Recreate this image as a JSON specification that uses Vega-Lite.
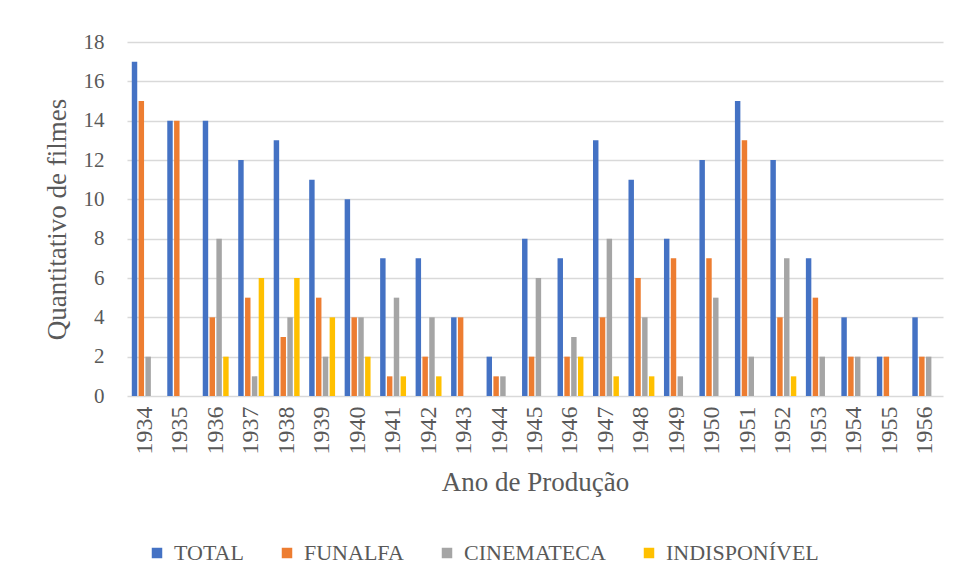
{
  "$schema": "https://vega.github.io/schema/vega-lite/v6.json",
  "width": 816,
  "height": 354,
  "autosize": {"type": "none"},
  "padding": {"left": 127, "top": 42, "right": 17, "bottom": 185},
  "background": "white",
  "config": {
    "view": {"stroke": null},
    "font": "'Times New Roman', 'Liberation Serif', serif"
  },
  "data": {
    "values": [
      {"ano": "1934", "serie": "TOTAL", "n": 17}, {"ano": "1934", "serie": "FUNALFA", "n": 15}, {"ano": "1934", "serie": "CINEMATECA", "n": 2},
      {"ano": "1935", "serie": "TOTAL", "n": 14}, {"ano": "1935", "serie": "FUNALFA", "n": 14},
      {"ano": "1936", "serie": "TOTAL", "n": 14}, {"ano": "1936", "serie": "FUNALFA", "n": 4}, {"ano": "1936", "serie": "CINEMATECA", "n": 8}, {"ano": "1936", "serie": "INDISPONÍVEL", "n": 2},
      {"ano": "1937", "serie": "TOTAL", "n": 12}, {"ano": "1937", "serie": "FUNALFA", "n": 5}, {"ano": "1937", "serie": "CINEMATECA", "n": 1}, {"ano": "1937", "serie": "INDISPONÍVEL", "n": 6},
      {"ano": "1938", "serie": "TOTAL", "n": 13}, {"ano": "1938", "serie": "FUNALFA", "n": 3}, {"ano": "1938", "serie": "CINEMATECA", "n": 4}, {"ano": "1938", "serie": "INDISPONÍVEL", "n": 6},
      {"ano": "1939", "serie": "TOTAL", "n": 11}, {"ano": "1939", "serie": "FUNALFA", "n": 5}, {"ano": "1939", "serie": "CINEMATECA", "n": 2}, {"ano": "1939", "serie": "INDISPONÍVEL", "n": 4},
      {"ano": "1940", "serie": "TOTAL", "n": 10}, {"ano": "1940", "serie": "FUNALFA", "n": 4}, {"ano": "1940", "serie": "CINEMATECA", "n": 4}, {"ano": "1940", "serie": "INDISPONÍVEL", "n": 2},
      {"ano": "1941", "serie": "TOTAL", "n": 7}, {"ano": "1941", "serie": "FUNALFA", "n": 1}, {"ano": "1941", "serie": "CINEMATECA", "n": 5}, {"ano": "1941", "serie": "INDISPONÍVEL", "n": 1},
      {"ano": "1942", "serie": "TOTAL", "n": 7}, {"ano": "1942", "serie": "FUNALFA", "n": 2}, {"ano": "1942", "serie": "CINEMATECA", "n": 4}, {"ano": "1942", "serie": "INDISPONÍVEL", "n": 1},
      {"ano": "1943", "serie": "TOTAL", "n": 4}, {"ano": "1943", "serie": "FUNALFA", "n": 4},
      {"ano": "1944", "serie": "TOTAL", "n": 2}, {"ano": "1944", "serie": "FUNALFA", "n": 1}, {"ano": "1944", "serie": "CINEMATECA", "n": 1},
      {"ano": "1945", "serie": "TOTAL", "n": 8}, {"ano": "1945", "serie": "FUNALFA", "n": 2}, {"ano": "1945", "serie": "CINEMATECA", "n": 6},
      {"ano": "1946", "serie": "TOTAL", "n": 7}, {"ano": "1946", "serie": "FUNALFA", "n": 2}, {"ano": "1946", "serie": "CINEMATECA", "n": 3}, {"ano": "1946", "serie": "INDISPONÍVEL", "n": 2},
      {"ano": "1947", "serie": "TOTAL", "n": 13}, {"ano": "1947", "serie": "FUNALFA", "n": 4}, {"ano": "1947", "serie": "CINEMATECA", "n": 8}, {"ano": "1947", "serie": "INDISPONÍVEL", "n": 1},
      {"ano": "1948", "serie": "TOTAL", "n": 11}, {"ano": "1948", "serie": "FUNALFA", "n": 6}, {"ano": "1948", "serie": "CINEMATECA", "n": 4}, {"ano": "1948", "serie": "INDISPONÍVEL", "n": 1},
      {"ano": "1949", "serie": "TOTAL", "n": 8}, {"ano": "1949", "serie": "FUNALFA", "n": 7}, {"ano": "1949", "serie": "CINEMATECA", "n": 1},
      {"ano": "1950", "serie": "TOTAL", "n": 12}, {"ano": "1950", "serie": "FUNALFA", "n": 7}, {"ano": "1950", "serie": "CINEMATECA", "n": 5},
      {"ano": "1951", "serie": "TOTAL", "n": 15}, {"ano": "1951", "serie": "FUNALFA", "n": 13}, {"ano": "1951", "serie": "CINEMATECA", "n": 2},
      {"ano": "1952", "serie": "TOTAL", "n": 12}, {"ano": "1952", "serie": "FUNALFA", "n": 4}, {"ano": "1952", "serie": "CINEMATECA", "n": 7}, {"ano": "1952", "serie": "INDISPONÍVEL", "n": 1},
      {"ano": "1953", "serie": "TOTAL", "n": 7}, {"ano": "1953", "serie": "FUNALFA", "n": 5}, {"ano": "1953", "serie": "CINEMATECA", "n": 2},
      {"ano": "1954", "serie": "TOTAL", "n": 4}, {"ano": "1954", "serie": "FUNALFA", "n": 2}, {"ano": "1954", "serie": "CINEMATECA", "n": 2},
      {"ano": "1955", "serie": "TOTAL", "n": 2}, {"ano": "1955", "serie": "FUNALFA", "n": 2},
      {"ano": "1956", "serie": "TOTAL", "n": 4}, {"ano": "1956", "serie": "FUNALFA", "n": 2}, {"ano": "1956", "serie": "CINEMATECA", "n": 2}
    ]
  },
  "mark": {"type": "bar"},
  "encoding": {
    "x": {
      "field": "ano", "type": "ordinal", "sort": "ascending",
      "scale": {"paddingInner": 0.27, "paddingOuter": 0.135},
      "axis": {"title": "Ano de Produção", "labelAngle": 270, "labelAlign": "right", "labelBaseline": "middle", "labelFont": "'Times New Roman', 'Liberation Serif', serif", "labelFontSize": 24, "labelColor": "#595959", "labelPadding": 10, "ticks": false, "domain": false, "titleFont": "'Times New Roman', 'Liberation Serif', serif", "titleFontSize": 27, "titleFontWeight": "normal", "titleColor": "#595959", "titlePadding": 15}
    },
    "xOffset": {
      "field": "serie", "type": "nominal",
      "scale": {"domain": ["TOTAL", "FUNALFA", "CINEMATECA", "INDISPONÍVEL"], "paddingInner": 0.2, "paddingOuter": 0}
    },
    "y": {
      "field": "n", "type": "quantitative",
      "scale": {"domain": [0, 18], "nice": false},
      "axis": {"title": "Quantitativo de filmes", "values": [0, 2, 4, 6, 8, 10, 12, 14, 16, 18], "labelFont": "'Times New Roman', 'Liberation Serif', serif", "labelFontSize": 21, "labelColor": "#595959", "labelPadding": 23, "ticks": false, "domain": false, "gridColor": "#D9D9D9", "gridWidth": 1.5, "titleFont": "'Times New Roman', 'Liberation Serif', serif", "titleFontSize": 27, "titleFontWeight": "normal", "titleColor": "#595959", "titlePadding": 12}
    },
    "color": {
      "field": "serie", "type": "nominal",
      "scale": {"domain": ["TOTAL", "FUNALFA", "CINEMATECA", "INDISPONÍVEL"], "range": ["#4472C4", "#ED7D31", "#A5A5A5", "#FFC000"]},
      "legend": {"title": null, "orient": "none", "direction": "horizontal", "legendX": 19, "legendY": 500, "symbolType": "square", "symbolSize": 110, "symbolStrokeWidth": 0, "labelFont": "'Times New Roman', 'Liberation Serif', serif", "labelFontSize": 22, "labelColor": "#595959", "labelOffset": 6, "columnPadding": 32}
    }
  }
}
